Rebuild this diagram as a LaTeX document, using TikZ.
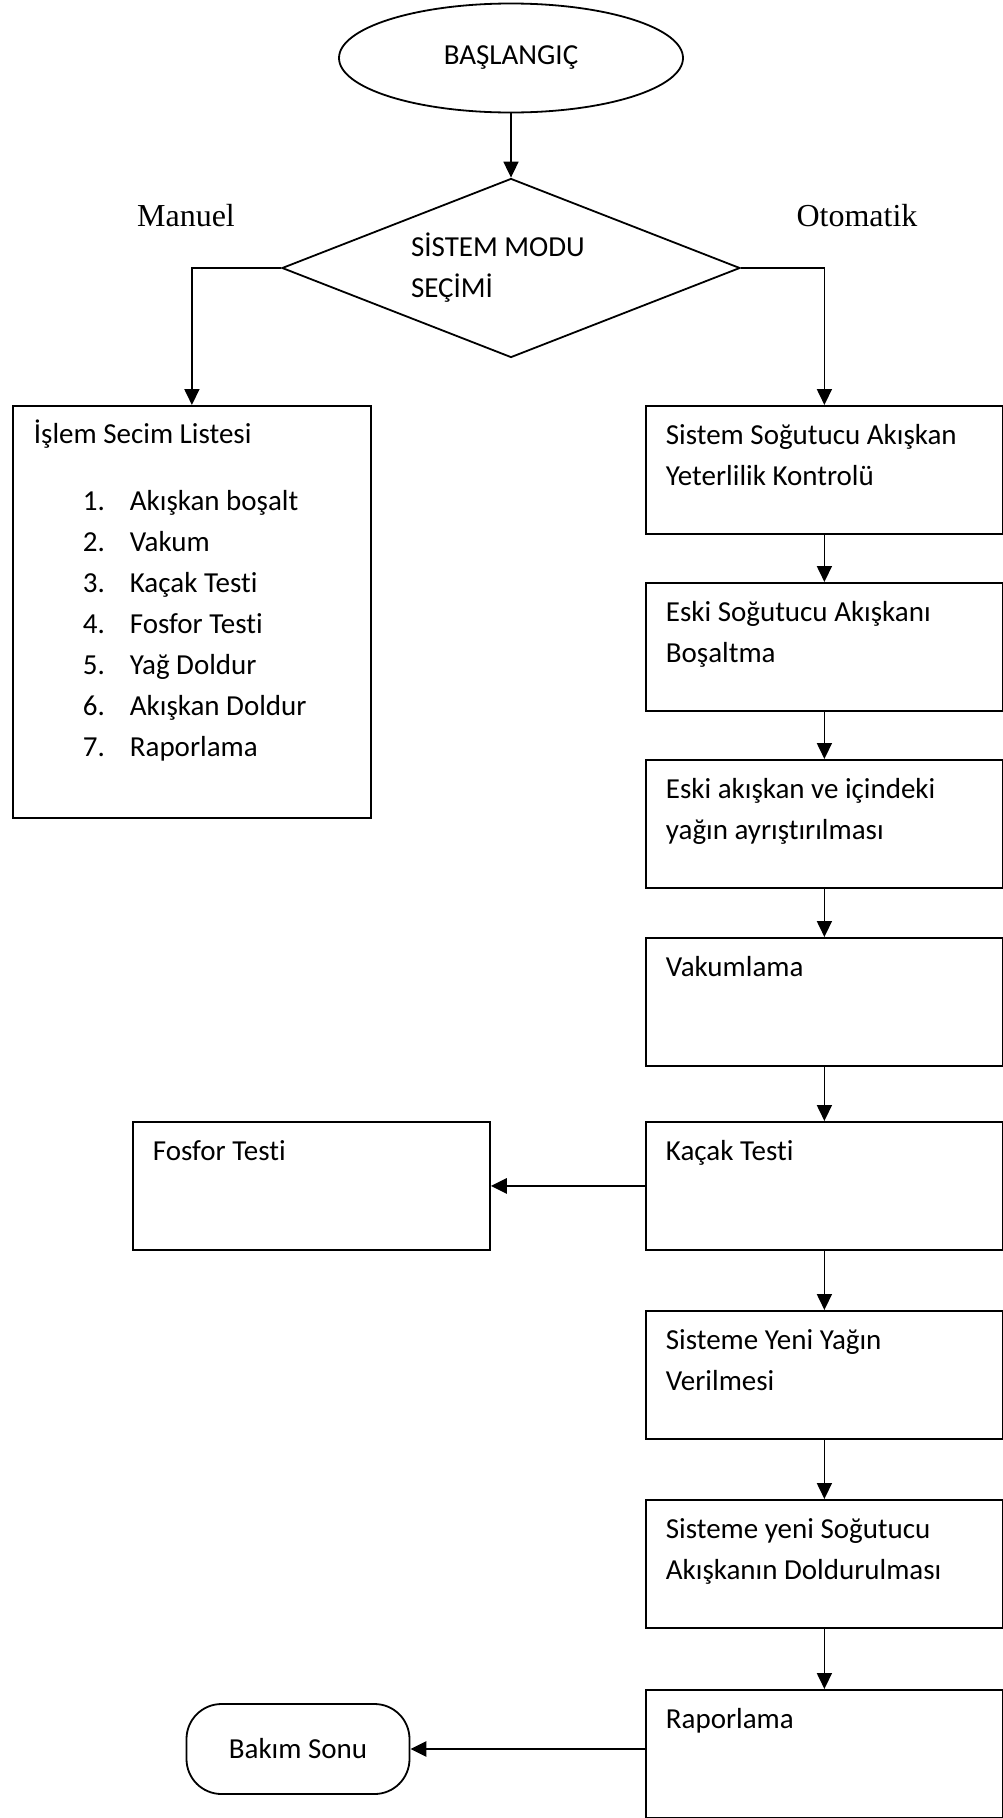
\documentclass[tikz,border=0pt]{standalone}
\usepackage{fontspec}
\setmainfont{Carlito}[Ligatures=NoCommon]
\newfontfamily\timesfont{Liberation Serif}
\usetikzlibrary{arrows.meta,shapes.geometric}
\newcommand\secimitem[2]{\hspace*{49pt}\makebox[47pt][l]{#1}#2}
\tikzset{
    stepbox/.style={draw,anchor=north west,text width=317pt,align=flush left,inner xsep=20pt,inner ysep=0pt,text height=39pt,text depth=89pt},
    sidelabel/.style={font=\timesfont\fontsize{32}{38}\selectfont},
}

\begin{document}
\begin{tikzpicture}[x=1pt,y=-1pt,line width=1.8pt,>={Triangle[length=16pt,width=15pt]},font=\fontsize{29}{41}\selectfont]

    \useasboundingbox (0,0) rectangle (1003,1818);

    \draw (511,58) node[ellipse,draw,minimum width=344pt,minimum height=109pt,inner sep=0pt] (start) {\raisebox{5pt}{BAŞLANGIÇ}};
    \draw (511,268) node[diamond,draw,shape aspect=2.56,minimum width=458pt,minimum height=179pt,inner sep=0pt,text width=200pt,align=flush left] (mode) {SİSTEM MODU\\SEÇİMİ};
    \draw (186,216) node[sidelabel] (manuel) {Manuel};
    \draw (857,216) node[sidelabel] (otomatik) {Otomatik};

    % manuel
    \draw (12,405) node[stepbox,text width=316pt,inner xsep=21pt,text height=38pt,text depth=374pt] (liste) {İşlem Secim Listesi\\[26pt]
        \secimitem{1.}{Akışkan boşalt}\\
        \secimitem{2.}{Vakum}\\
        \secimitem{3.}{Kaçak Testi}\\
        \secimitem{4.}{Fosfor Testi}\\
        \secimitem{5.}{Yağ Doldur}\\
        \secimitem{6.}{Akışkan Doldur}\\
        \secimitem{7.}{Raporlama}};

    % otomatik
    \draw (645,405) node[stepbox] (yeterlilik) {Sistem Soğutucu Akışkan\\Yeterlilik Kontrolü};
    \draw (645,582) node[stepbox] (bosalt) {Eski Soğutucu Akışkanı\\Boşaltma};
    \draw (645,759) node[stepbox] (ayristir) {Eski akışkan ve içindeki\\yağın ayrıştırılması};
    \draw (645,937) node[stepbox] (vakum) {Vakumlama};
    \draw (645,1121) node[stepbox] (kacak) {Kaçak Testi};
    \draw (645,1310) node[stepbox] (yag) {Sisteme Yeni Yağın\\Verilmesi};
    \draw (645,1499) node[stepbox] (dolum) {Sisteme yeni Soğutucu\\Akışkanın Doldurulması};
    \draw (645,1689) node[stepbox] (rapor) {Raporlama};

    \draw (132,1121) node[stepbox] (fosfor) {Fosfor Testi};
    \draw (298,1749) node[draw,rounded corners=35pt,minimum width=223pt,minimum height=90pt] (son) {Bakım Sonu};

    \draw[->] (start) -- (mode);
    \draw[->] (mode.west) -| (liste.north);
    \draw[->] (mode.east) -| (yeterlilik.north);
    \draw[->] (yeterlilik) -- (bosalt);
    \draw[->] (bosalt) -- (ayristir);
    \draw[->] (ayristir) -- (vakum);
    \draw[->] (vakum) -- (kacak);
    \draw[->] (kacak) -- (yag);
    \draw[->] (yag) -- (dolum);
    \draw[->] (dolum) -- (rapor);
    \draw[->,line width=2.6pt] (kacak) -- (fosfor);
    \draw[->,line width=2.6pt] (rapor.west |- son) -- (son);

\end{tikzpicture}
\end{document}
